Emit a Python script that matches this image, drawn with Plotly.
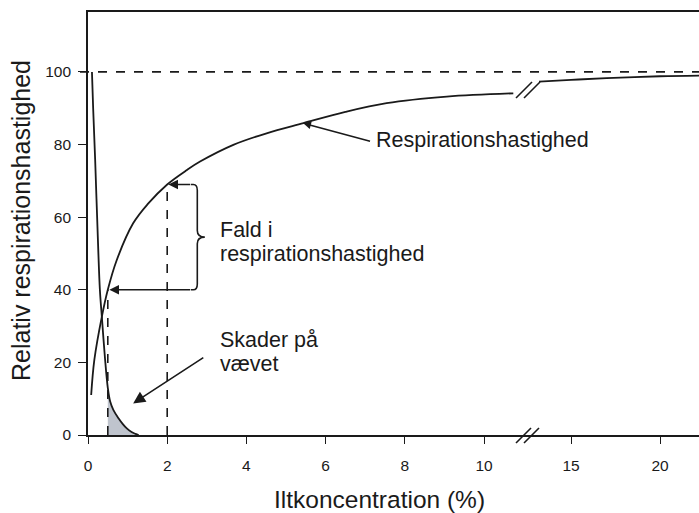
import plotly.graph_objects as go

# Respiration rate (relative, %) versus oxygen concentration (%)
resp_x_low = [0.08, 0.16, 0.35, 0.5, 0.72, 1.14, 1.5, 2.0, 2.5, 2.83, 3.67, 4.51, 5.44, 6.5, 7.54, 9.06, 10.74]
resp_y_low = [11, 20.7, 32.6, 40, 48, 58.3, 63.5, 69, 73, 75.3, 79.9, 83.1, 85.9, 89, 91.4, 93.2, 94.1]
resp_x_high = [13.2, 15, 17, 20, 22.2]
resp_y_high = [97.3, 97.8, 98.3, 98.8, 99.0]

# Tissue damage curve
damage_x = [0.1, 0.13, 0.18, 0.24, 0.30, 0.35, 0.43, 0.5, 0.56, 0.64, 0.77, 0.88, 0.98, 1.1, 1.2, 1.28]
damage_y = [100, 90, 76, 57, 40, 32.5, 21, 13, 9.2, 6.9, 4.6, 3.0, 1.8, 0.8, 0.3, 0]

# Axis ticks
x_ticks_low = [0, 2, 4, 6, 8, 10]
x_ticks_high = [15, 20]
y_ticks = [0, 20, 40, 60, 80, 100]

# Marked oxygen levels (reference lines)
o2_low = 0.5
o2_high = 2.0

INK = "#1a1a1a"
FONT = "Liberation Sans, Arial, sans-serif"

# Plot-area geometry (px) used for the broken axis
L, T, W, H = 88, 12, 611, 423
split = 438 / W
x1_range = [0, 438 / 39.6]
x2_range = [12.47, 12.47 + (W - 438) / 17.8]


def px(xp):
    return (xp - L) / W


def py(yp):
    return (T + H - yp) / H


fig = go.Figure()

line = dict(color=INK, width=1.8)

# Shaded damage area beyond the low-oxygen mark
fill_x = [x for x in damage_x if x >= o2_low]
fill_y = [y for x, y in zip(damage_x, damage_y) if x >= o2_low]
fig.add_trace(go.Scatter(x=fill_x, y=fill_y, mode="lines", fill="tozeroy",
                         fillcolor="rgba(170,176,188,0.75)", line=dict(width=0),
                         xaxis="x", yaxis="y", hoverinfo="skip"))

fig.add_trace(go.Scatter(x=damage_x, y=damage_y, mode="lines", line=line,
                         line_shape="spline", xaxis="x", yaxis="y"))
fig.add_trace(go.Scatter(x=resp_x_low, y=resp_y_low, mode="lines", line=line,
                         line_shape="spline", xaxis="x", yaxis="y"))
fig.add_trace(go.Scatter(x=resp_x_high, y=resp_y_high, mode="lines", line=line,
                         line_shape="spline", xaxis="x2", yaxis="y"))

# Vertical dashed lines up to the respiration curve
r_low = resp_y_low[resp_x_low.index(o2_low)]
r_high = resp_y_low[resp_x_low.index(o2_high)]
for xv, yv in [(o2_low, r_low), (o2_high, r_high)]:
    fig.add_trace(go.Scatter(x=[xv, xv], y=[0, yv], mode="lines",
                             line=dict(color=INK, width=1.6, dash="dash"),
                             xaxis="x", yaxis="y"))

shapes = []
# 100 % reference line
shapes.append(dict(type="line", xref="paper", yref="y", x0=px(80), x1=1, y0=100, y1=100,
                   line=dict(color=INK, width=1.6, dash="dash")))

# Axis break marks
for dx in (0, 8):
    shapes.append(dict(type="line", xref="paper", yref="paper",
                       x0=px(516 + dx), y0=py(443), x1=px(531 + dx), y1=py(428),
                       line=dict(color=INK, width=1.6)))
    shapes.append(dict(type="line", xref="paper", yref="paper",
                       x0=px(516 + dx), y0=py(98), x1=px(532 + dx), y1=py(82),
                       line=dict(color=INK, width=1.6)))

# Curly brace spanning the drop in respiration rate
bx, cx = 2.76, 2.95
ymid = (r_low + r_high) / 2
brace = (f"M 2.6,{r_high} L 2.66,{r_high} Q {bx},{r_high} {bx},{r_high-1.6} "
         f"L {bx},{ymid+1.8} Q {bx},{ymid} {cx},{ymid} Q {bx},{ymid} {bx},{ymid-1.8} "
         f"L {bx},{r_low+1.6} Q {bx},{r_low} 2.66,{r_low} L 2.6,{r_low}")
shapes.append(dict(type="path", xref="x", yref="y", path=brace,
                   line=dict(color=INK, width=1.6)))

annotations = []
arrow = dict(showarrow=True, arrowcolor=INK, arrowwidth=1.6, axref="x", ayref="y",
             xref="x", yref="y", text="")
# Brace arrows
annotations.append(dict(arrow, x=o2_high + 0.03, y=r_high, ax=2.62, ay=r_high,
                        arrowhead=2, arrowsize=1.2))
annotations.append(dict(arrow, x=o2_low + 0.04, y=r_low, ax=2.62, ay=r_low,
                        arrowhead=2, arrowsize=1.2))
# Respiration label arrow
annotations.append(dict(arrow, x=5.43, y=85.9, ax=7.16, ay=80.8, arrowhead=2, arrowsize=1.0))
# Damage label arrow
annotations.append(dict(arrow, x=1.14, y=8.7, ax=2.95, ay=21.6, arrowhead=2, arrowsize=1.5))

txt = dict(showarrow=False, xref="paper", yref="paper", xanchor="left", yanchor="middle",
           borderpad=0, font=dict(family=FONT, size=21.5, color=INK))
annotations.append(dict(txt, text="Respirationshastighed", x=px(375), y=py(140)))
annotations.append(dict(txt, text="Fald i", x=px(219), y=py(230)))
annotations.append(dict(txt, text="respirationshastighed", x=px(219), y=py(254)))
annotations.append(dict(txt, text="Skader på", x=px(219), y=py(339.5)))
annotations.append(dict(txt, text="vævet", x=px(219), y=py(363.5)))

# Axis titles
annotations.append(dict(showarrow=False, xref="paper", yref="paper", text="Relativ respirationshastighed",
                        textangle=-90, x=px(21), y=py(221), xanchor="center", yanchor="middle",
                        font=dict(family=FONT, size=25, color=INK)))
annotations.append(dict(showarrow=False, xref="paper", yref="paper", text="Iltkoncentration (%)",
                        x=px(379), y=py(500), xanchor="center", yanchor="middle",
                        font=dict(family=FONT, size=24.5, color=INK)))

axis_common = dict(showline=True, linecolor=INK, linewidth=1.6, mirror=True,
                   showgrid=False, zeroline=False, ticks="outside", ticklen=7,
                   tickcolor=INK, tickwidth=1.4, ticklabelstandoff=9,
                   tickfont=dict(family=FONT, size=15.5, color=INK))

fig.update_layout(
    width=699, height=513,
    margin=dict(l=L, r=0, t=T, b=513 - T - H),
    paper_bgcolor="white", plot_bgcolor="white",
    showlegend=False,
    shapes=shapes, annotations=annotations,
    xaxis=dict(axis_common, domain=[0, split], range=x1_range, tickvals=x_ticks_low,
               anchor="y"),
    xaxis2=dict(axis_common, domain=[split, 1], range=x2_range, tickvals=x_ticks_high,
                anchor="y"),
    yaxis=dict(showline=True, linecolor=INK, linewidth=1.6, showgrid=False, zeroline=False,
               range=[0, 116.5], tickvals=y_ticks, ticks="outside", ticklen=8,
               tickcolor=INK, tickwidth=1.4, ticklabelstandoff=4,
               tickfont=dict(family=FONT, size=15.5, color=INK), anchor="x"),
)

fig.write_html("out.html")
